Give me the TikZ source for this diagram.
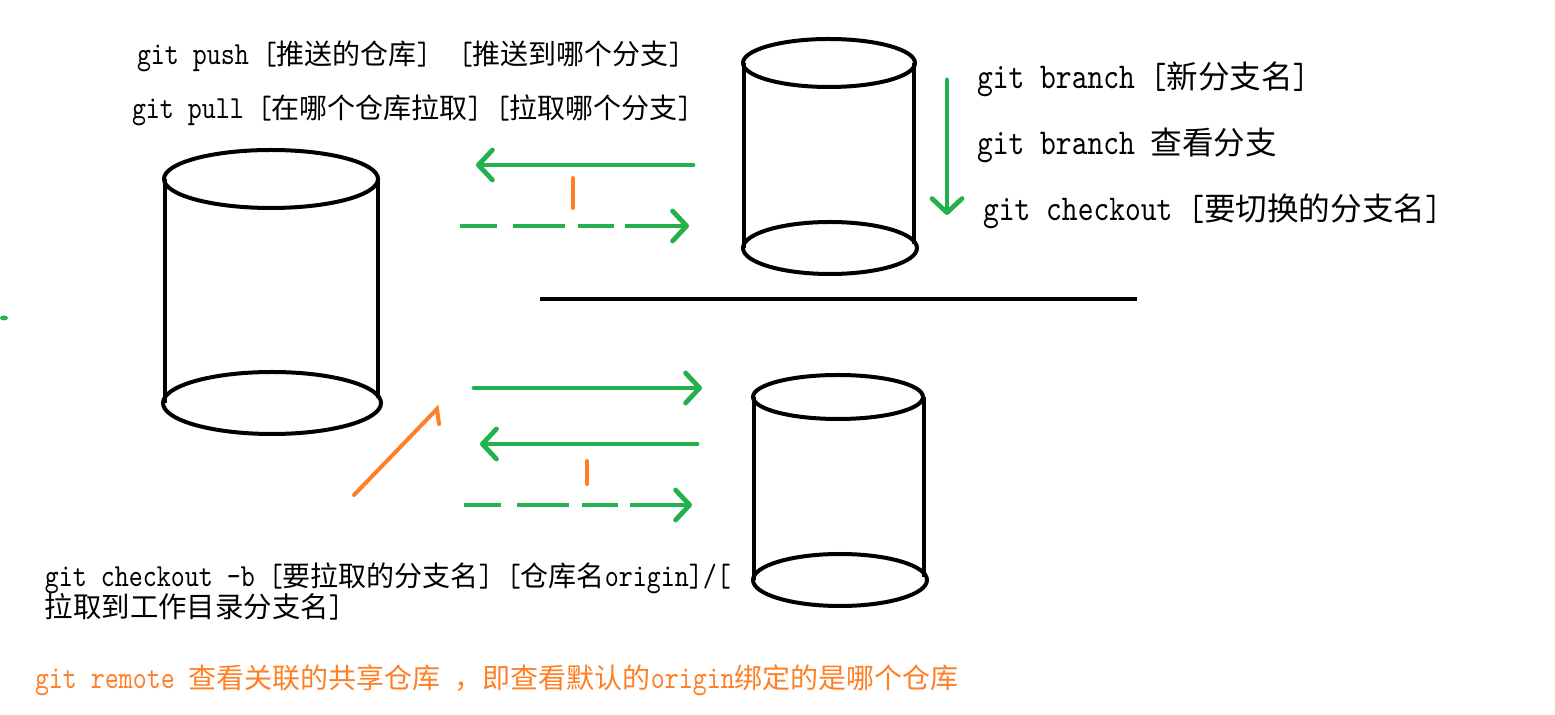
\documentclass[tikz,border=0pt]{standalone}
\usepackage{fontspec}
\usetikzlibrary{arrows.meta}
\newfontfamily\cjk{Noto Sans CJK SC}
\newfontfamily\mono{lmmono10-regular}[Extension=.otf, Scale=1.15, FakeStretch=0.828]
\definecolor{pgreen}{HTML}{22B14C}
\definecolor{porange}{HTML}{FF7F27}
\tikzset{
  cyl/.style={line width=2pt, black},
  garrow/.style={line width=2.4pt, pgreen, line cap=round, -{Straight Barb[length=7pt,width=15pt,line width=2.4pt,round]}},
  gdash/.style={line width=2.4pt, pgreen},
  otick/.style={line width=2pt, porange, line cap=round},
  txt/.style={anchor=base west, inner sep=0pt, outer sep=0pt},
}
\begin{document}
\begin{tikzpicture}[x=0.5pt, y=-0.5pt]
\useasboundingbox (0,0) rectangle (1555,715);
\fill[white] (0,0) rectangle (1555,715);

% left cylinder
\draw[cyl] (271,179) ellipse [x radius=107, y radius=29];
\draw[cyl] (272,403) ellipse [x radius=109, y radius=31];
\draw[cyl] (165,179) -- (165,403);
\draw[cyl] (378,179) -- (378,398);

% top right cylinder
\draw[cyl] (829,63) ellipse [x radius=86, y radius=24];
\draw[cyl] (830,248) ellipse [x radius=87, y radius=26];
\draw[cyl] (744,63) -- (744,248);
\draw[cyl] (914,63) -- (914,244);

% bottom right cylinder
\draw[cyl] (838,397) ellipse [x radius=85, y radius=22];
\draw[cyl] (840,580) ellipse [x radius=87, y radius=26];
\draw[cyl] (754,397) -- (754,580);
\draw[cyl] (924,397) -- (924,577);

% separator
\draw[line width=2pt] (540,299) -- (1137,299);

% top arrows
\coordinate (a1s) at (693,165); \coordinate (a1e) at (476,165);
\draw[garrow] (a1s) -- (a1e);
\coordinate (t1a) at (573,178); \coordinate (t1b) at (573,208);
\draw[otick] (t1a) -- (t1b);
\draw[gdash] (460,226) -- (497,226) (513,226) -- (565,226) (578,226) -- (614,226);
\coordinate (d1s) at (625,226); \coordinate (d1e) at (689,226);
\draw[garrow, line cap=butt] (d1s) -- (d1e);

% vertical arrow
\coordinate (vs) at (947,80); \coordinate (ve) at (947,215);
\draw[garrow] (vs) -- (ve);

% bottom arrows
\coordinate (b1s) at (474,388); \coordinate (b1e) at (702,388);
\draw[garrow] (b1s) -- (b1e);
\coordinate (b2s) at (697,444); \coordinate (b2e) at (480,444);
\draw[garrow] (b2s) -- (b2e);
\coordinate (t2a) at (587,461); \coordinate (t2b) at (587,484);
\draw[otick] (t2a) -- (t2b);
\draw[gdash] (464,505) -- (501,505) (517,505) -- (569,505) (582,505) -- (618,505);
\coordinate (d2s) at (630,505); \coordinate (d2e) at (692,505);
\draw[garrow, line cap=butt] (d2s) -- (d2e);

% orange diagonal arrow
\coordinate (os) at (354,495); \coordinate (oe) at (437,409); \coordinate (ob) at (439,424);
\draw[otick] (os) -- (oe) -- (ob);

% green dot
\coordinate (gd) at (4,318);
\fill[pgreen] (gd) ellipse [x radius=4, y radius=2.5];

% texts
\node[txt, font=\fontsize{14}{16}\selectfont] (push) at (137,65)
  {\mono git push [\cjk 推送的仓库\mono]\ \ [\cjk 推送到哪个分支\mono]};
\node[txt, font=\fontsize{14}{16}\selectfont] (pull) at (132,119)
  {\mono git pull [\cjk 在哪个仓库拉取\mono] [\cjk 拉取哪个分支\mono]};

\node[txt, font=\fontsize{15.8}{18}\selectfont] (br1) at (977,89)
  {\mono git branch [\cjk 新分支名\mono]};
\node[txt, font=\fontsize{15.8}{18}\selectfont] (br2) at (977,155)
  {\mono git branch \cjk 查看分支};
\node[txt, font=\fontsize{15.8}{18}\selectfont] (co) at (983,221)
  {\mono git checkout [\cjk 要切换的分支名\mono]};

\node[txt, font=\fontsize{14}{16}\selectfont] (cob1) at (45,587)
  {\mono git checkout -b [\cjk 要拉取的分支名\mono] [\cjk 仓库名\mono origin]/[};
\node[txt, font=\fontsize{14.2}{17}\selectfont] (cob2) at (45,618)
  {\cjk 拉取到工作目录分支名\mono]};

\node[txt, font=\fontsize{14}{16}\selectfont, text=porange] (remote) at (35,689)
  {\mono git remote \cjk 查看关联的共享仓库\mono\ \cjk ，即查看默认的\mono origin\cjk 绑定的是哪个仓库};
\end{tikzpicture}
\end{document}
